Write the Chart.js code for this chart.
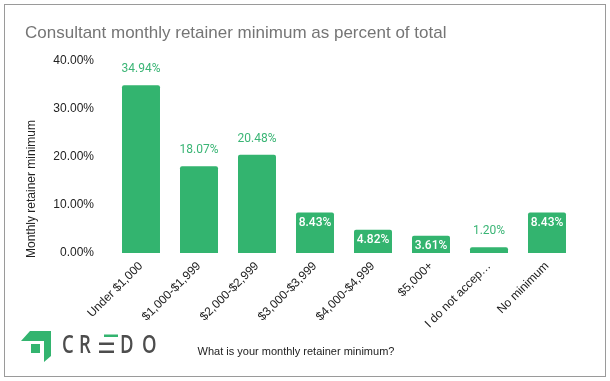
<!DOCTYPE html>
<html>
<head>
<meta charset="utf-8">
<script src="https://cdn.jsdelivr.net/npm/chart.js@4.4.1/dist/chart.umd.min.js"></script>
<style>
  html, body { margin: 0; padding: 0; background: #fff; }
  #frame { position: absolute; left: 4px; top: 4px; width: 600px; height: 371px; border: 1px solid #9a9a9a; }
  #wrap { position: absolute; left: 0; top: 0; width: 610px; height: 381px; }
</style>
</head>
<body>
<div id="frame"></div>
<div id="wrap"><canvas id="c" width="610" height="381"></canvas></div>
<script>
const categories = ["Under $1,000", "$1,000-$1,999", "$2,000-$2,999", "$3,000-$3,999", "$4,000-$4,999", "$5,000+", "I do not accep\u2026", "No minimum"];
const values = [34.94, 18.07, 20.48, 8.43, 4.82, 3.61, 1.20, 8.43];
const yTicks = [0, 10, 20, 30, 40];
const chartTitle = "Consultant monthly retainer minimum as percent of total";
const xTitle = "What is your monthly retainer minimum?";
const yTitle = "Monthly retainer minimum";

const GREEN = "#33b46f";
const LABEL_GREEN = "#3ab575";

const decor = {
  id: "decor",
  afterDatasetsDraw(chart) {
    const ctx = chart.ctx;
    const meta = chart.getDatasetMeta(0);
    ctx.save();
    ctx.textAlign = "center";
    ctx.textBaseline = "middle";
    meta.data.forEach((bar, i) => {
      const v = values[i];
      const txt = v.toFixed(2) + "%";
      const inside = v > 2 && v < 10;
      if (inside) {
        ctx.fillStyle = "#ffffff";
        ctx.font = "500 12px Roboto";
        ctx.fillText(txt, bar.x, bar.y + 10);
      } else {
        ctx.fillStyle = LABEL_GREEN;
        ctx.font = "400 12px Roboto";
        ctx.fillText(txt, bar.x, bar.y - 16);
      }
    });
    ctx.restore();
  },
  afterDraw(chart) {
    const ctx = chart.ctx;
    ctx.save();
    // title
    ctx.fillStyle = "#757575";
    ctx.font = "17px 'Liberation Sans', Arial, sans-serif";
    ctx.textAlign = "left";
    ctx.textBaseline = "middle";
    ctx.fillText(chartTitle, 25, 33);
    // x title
    ctx.fillStyle = "#222";
    ctx.font = "11px 'Liberation Sans', Arial, sans-serif";
    ctx.textAlign = "center";
    ctx.fillText(xTitle, 296, 352);
    // y title
    ctx.font = "12px 'Liberation Sans', Arial, sans-serif";
    ctx.save();
    ctx.translate(32, 189);
    ctx.rotate(-Math.PI / 2);
    ctx.fillText(yTitle, 0, 0);
    ctx.restore();
    // logo mark
    ctx.fillStyle = GREEN;
    ctx.beginPath();
    ctx.moveTo(30, 331); ctx.lineTo(51, 331); ctx.lineTo(51, 356);
    ctx.lineTo(44, 362); ctx.lineTo(44, 341); ctx.lineTo(21, 341);
    ctx.closePath(); ctx.fill();
    ctx.fillRect(31, 344, 9, 9);
    // logo text
    ctx.fillStyle = "#4d4d4d";
    ctx.font = "600 25px 'Open Sans', Lato, sans-serif";
    ctx.textAlign = "left";
    ctx.textBaseline = "alphabetic";
    const letters = [["C", 62], ["R", 79], ["D", 120], ["O", 142]];
    letters.forEach(([ch, x]) => {
      ctx.save();
      ctx.translate(x, 353);
      ctx.scale(0.74, 1);
      ctx.fillText(ch, 0, 0);
      ctx.restore();
    });
    ctx.fillRect(99, 342.5, 15, 2.5);
    ctx.fillRect(99, 350.5, 15, 2.5);
    ctx.fillStyle = GREEN;
    ctx.fillRect(104, 334.5, 14, 2.5);
    ctx.restore();
  }
};

new Chart(document.getElementById("c"), {
  type: "bar",
  data: {
    labels: categories,
    datasets: [{
      data: values,
      backgroundColor: GREEN,
      borderRadius: { topLeft: 2, topRight: 2 },
      borderSkipped: "bottom",
      categoryPercentage: 1,
      barPercentage: 0.655
    }]
  },
  options: {
    responsive: false,
    animation: false,
    devicePixelRatio: 1,
    layout: { padding: { left: 0, right: 34, top: 61, bottom: 0 } },
    plugins: { legend: { display: false }, tooltip: { enabled: false }, title: { display: false } },
    scales: {
      y: {
        min: 0, max: 40,
        afterFit(s) { s.width = 112; },
        afterBuildTicks(s) { s.ticks = yTicks.map(v => ({ value: v })); },
        grid: { display: false, drawTicks: false },
        border: { display: false },
        ticks: {
          padding: 18,
          color: "#222",
          font: { family: "'Liberation Sans', Arial, sans-serif", size: 12 },
          callback: v => v.toFixed(2) + "%"
        }
      },
      x: {
        afterFit(s) { s.height = 128; },
        grid: { display: false, drawTicks: false },
        border: { display: false },
        ticks: {
          minRotation: 45, maxRotation: 45,
          autoSkip: false,
          padding: 6,
          color: "#222",
          font: { family: "'Liberation Sans', Arial, sans-serif", size: 12 }
        }
      }
    }
  },
  plugins: [decor]
});
</script>
</body>
</html>
